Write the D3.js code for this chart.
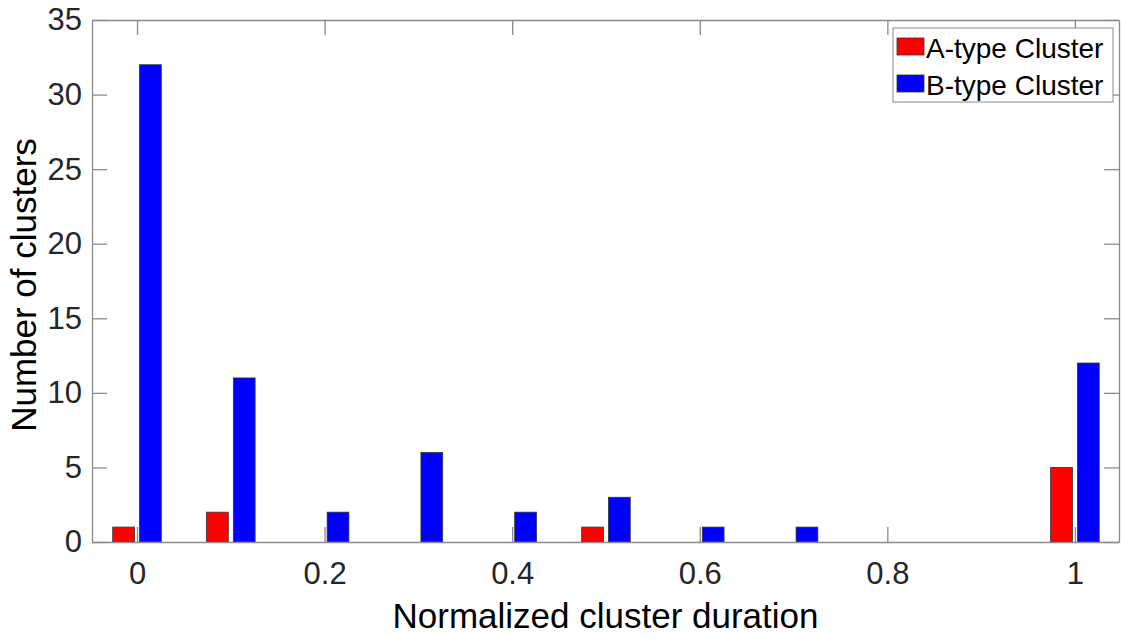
<!DOCTYPE html>
<html>
<head>
<meta charset="utf-8">
<script src="https://cdn.jsdelivr.net/npm/d3@7"></script>
<style>
  body { margin: 0; background: #fff; }
  svg { display: block; font-family: "Liberation Sans", Arial, sans-serif; }
</style>
</head>
<body>
<svg id="chart"></svg>
<script>
// data
const durations = [0, 0.1, 0.2, 0.3, 0.4, 0.5, 0.6, 0.7, 0.8, 0.9, 1.0];
const aTypeCounts = [1, 2, 0, 0, 0, 1, 0, 0, 0, 0, 5];
const bTypeCounts = [32, 11, 2, 6, 2, 3, 1, 1, 0, 0, 12];
const seriesNames = ['A-type Cluster', 'B-type Cluster'];
const xTicks = [0, 0.2, 0.4, 0.6, 0.8, 1];
const yTicks = [0, 5, 10, 15, 20, 25, 30, 35];

const width = 1121;
const height = 638;
const plotLeft = 92, plotRight = 1119, plotTop = 20, plotBottom = 542;
const tickLen = 15;
const boxColor = '#8a8a8a';
const colors = ['#ff0000', '#0000ff'];

const svg = d3.select('#chart')
    .attr('width', width)
    .attr('height', height);

const x = d3.scaleLinear().domain([-0.048, 1.047]).range([plotLeft, plotRight]);
const y = d3.scaleLinear().domain([0, 35]).range([plotBottom, plotTop]);

const barW = 0.0232;   // in data units
const barOff = 0.0143; // distance of each bar centre from the group centre

const series = [aTypeCounts, bTypeCounts];

// bars
series.forEach((vals, s) => {
    const off = s == 0 ? -barOff : barOff;
    svg.append('g')
        .selectAll('rect')
        .data(durations.map((d, i) => ({ d: d, v: vals[i] })).filter(p => p.v > 0))
        .join('rect')
        .attr('x', p => x(p.d + off - barW / 2))
        .attr('y', p => y(p.v))
        .attr('width', p => x(p.d + off + barW / 2) - x(p.d + off - barW / 2))
        .attr('height', p => y(0) - y(p.v))
        .attr('fill', colors[s])
        .attr('stroke', '#333')
        .attr('stroke-width', 0.8);
});

// axes: bottom/left with labels, top/right without, ticks pointing inside
const gx = svg.append('g')
    .attr('transform', `translate(0, ${plotBottom})`)
    .call(d3.axisBottom(x).tickValues(xTicks).tickFormat(d3.format('')).tickSizeInner(-tickLen).tickSizeOuter(0).tickPadding(20));
const gxTop = svg.append('g')
    .attr('transform', `translate(0, ${plotTop})`)
    .call(d3.axisTop(x).tickValues(xTicks).tickFormat('').tickSizeInner(-tickLen).tickSizeOuter(0));
const gy = svg.append('g')
    .attr('transform', `translate(${plotLeft}, 0)`)
    .call(d3.axisLeft(y).tickValues(yTicks).tickSizeInner(-tickLen).tickSizeOuter(0).tickPadding(10));
const gyRight = svg.append('g')
    .attr('transform', `translate(${plotRight}, 0)`)
    .call(d3.axisRight(y).tickValues(yTicks).tickFormat('').tickSizeInner(-tickLen).tickSizeOuter(0));

[gx, gxTop, gy, gyRight].forEach(g => {
    g.select('.domain').attr('stroke', boxColor).attr('stroke-width', 1.3);
    g.selectAll('.tick line').attr('stroke', boxColor).attr('stroke-width', 1.3);
    g.selectAll('.tick text')
        .attr('fill', '#262626')
        .style('font-size', '31px')
        .style('font-family', '"Liberation Sans", Arial, sans-serif');
});
gx.selectAll('.tick text').attr('dy', '0.71em');

// axis titles
svg.append('text')
    .attr('x', (plotLeft + plotRight) / 2)
    .attr('y', 628)
    .attr('text-anchor', 'middle')
    .style('font-size', '35px')
    .attr('fill', '#000')
    .text('Normalized cluster duration');

svg.append('text')
    .attr('transform', `translate(36, 285) rotate(-90)`)
    .attr('text-anchor', 'middle')
    .style('font-size', '35px')
    .attr('fill', '#000')
    .text('Number of clusters');

// legend
const legend = svg.append('g');
legend.append('rect')
    .attr('x', 893).attr('y', 28)
    .attr('width', 220).attr('height', 74)
    .attr('fill', '#fff')
    .attr('stroke', boxColor)
    .attr('stroke-width', 1);

seriesNames.forEach((name, i) => {
    const ry = 38 + i * 37;
    legend.append('rect')
        .attr('x', 897).attr('y', ry)
        .attr('width', 27).attr('height', 17)
        .attr('fill', colors[i])
        .attr('stroke', '#333')
        .attr('stroke-width', 0.8);
    legend.append('text')
        .attr('x', 926).attr('y', ry + 20)
        .style('font-size', '28px')
        .attr('fill', '#000')
        .text(name);
});
</script>
</body>
</html>
